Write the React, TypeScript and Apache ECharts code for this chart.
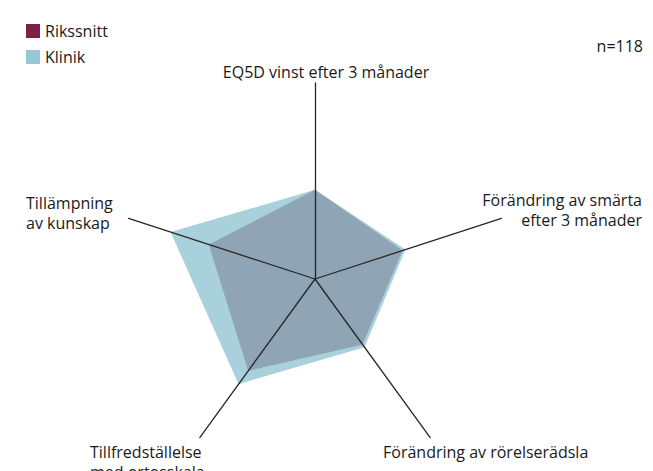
import React, { useEffect, useRef } from "react";
import * as echarts from "echarts";

const indicators = [
  "EQ5D vinst efter 3 månader",
  "Tillämpning av kunskap",
  "Tillfredställelse med ortosskala",
  "Förändring av rörelserädsla",
  "Förändring av smärta efter 3 månader",
];
const klinikValues = [45.5, 77.5, 66.3, 43, 48.5];
const rikssnittValues = [45.5, 57, 58, 41.3, 47];
const seriesNames = ["Rikssnitt", "Klinik"];
const nText = "n=118";

const FONT = "'Open Sans', 'Noto Sans', sans-serif";

export default function App() {
  const ref = useRef<HTMLDivElement>(null);
  useEffect(() => {
    if (!ref.current) return;
    const chart = echarts.init(ref.current, undefined, { renderer: "svg" });
    const textStyle = (t: string, extra: any) => ({
      type: "text",
      z: 20,
      style: { text: t, font: `16px ${FONT}`, fill: "#1a1a1a", lineHeight: 20, ...extra.style },
      ...extra.pos,
    });
    chart.setOption({
      animation: false,
      backgroundColor: "#ffffff",
      textStyle: { fontFamily: FONT },
      legend: {
        orient: "vertical",
        left: 26,
        top: 23,
        padding: 0,
        itemWidth: 14,
        itemHeight: 14,
        itemGap: 10,
        itemTextGap: 6,
        icon: "rect",
        textStyle: { fontSize: 16, color: "#1a1a1a", fontFamily: FONT },
        data: [
          { name: seriesNames[0], itemStyle: { color: "#7b2346" } },
          { name: seriesNames[1], itemStyle: { color: "#97c8d6" } },
        ],
      },
      radar: {
        center: [315, 279],
        radius: 196,
        startAngle: 90,
        shape: "polygon",
        splitNumber: 1,
        z: 10,
        indicator: indicators.map((name) => ({ name, max: 100, min: 0 })),
        axisName: { show: false },
        axisLine: { lineStyle: { color: "#262626", width: 1.3 } },
        splitLine: { show: false },
        splitArea: { show: false },
        axisTick: { show: false },
        axisLabel: { show: false },
      },
      graphic: [
        {
          type: "text",
          left: "center",
          top: -20,
          style: { text: "Resultatmätning, årsvy", font: `bold 17px ${FONT}`, fill: "#1a1a1a" },
        },
        textStyle(nText, { pos: { x: 643, y: 46 }, style: { align: "right", verticalAlign: "middle" } }),
        textStyle("EQ5D vinst efter 3 månader", { pos: { x: 326, y: 72 }, style: { align: "center", verticalAlign: "middle" } }),
        textStyle("Förändring av smärta\nefter 3 månader", { pos: { x: 642, y: 190 }, style: { align: "right", verticalAlign: "top" } }),
        textStyle("Tillämpning\nav kunskap", { pos: { x: 26, y: 193 }, style: { align: "left", verticalAlign: "top" } }),
        textStyle("Tillfredställelse\nmed ortosskala", { pos: { x: 90, y: 442 }, style: { align: "left", verticalAlign: "top" } }),
        textStyle("Förändring av rörelserädsla", { pos: { x: 383, y: 442 }, style: { align: "left", verticalAlign: "top" } }),
      ],
      series: [
        {
          type: "radar",
          symbol: "none",
          z: 1,
          data: [
            {
              name: seriesNames[1],
              value: klinikValues,
              itemStyle: { color: "#97c8d6" },
              lineStyle: { width: 0, color: "#a9d1dc" },
              areaStyle: { color: "#a9d1dc", opacity: 1 },
            },
          ],
        },
        {
          type: "radar",
          symbol: "none",
          z: 2,
          data: [
            {
              name: seriesNames[0],
              value: rikssnittValues,
              itemStyle: { color: "#7b2346" },
              lineStyle: { width: 0, color: "#8fa4b4" },
              areaStyle: { color: "#8fa4b4", opacity: 1 },
            },
          ],
        },
      ],
    });
    return () => chart.dispose();
  }, []);
  return (
    <div
      ref={ref}
      style={{ position: "fixed", left: 0, top: 0, width: 653, height: 471 }}
    />
  );
}
